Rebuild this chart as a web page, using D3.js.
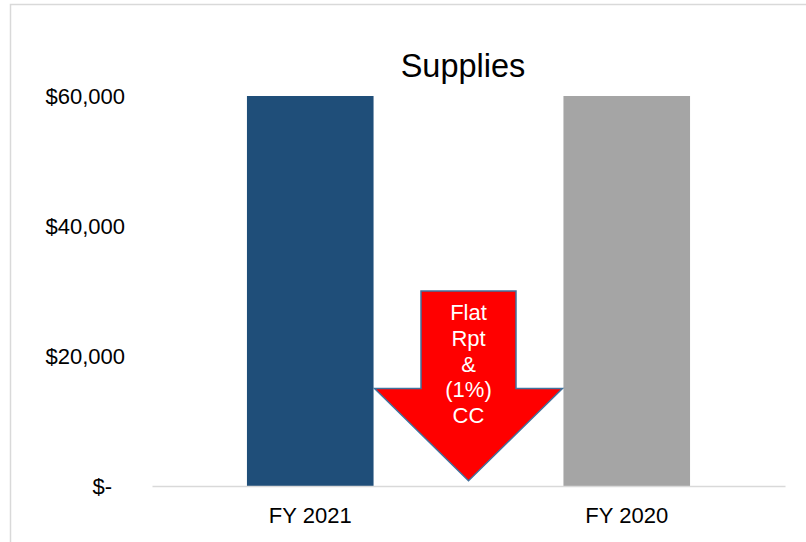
<!DOCTYPE html>
<html>
<head>
<meta charset="utf-8">
<script src="https://cdn.jsdelivr.net/npm/d3@7"></script>
<style>
html,body{margin:0;padding:0;background:#fff;}
svg{display:block;font-family:"Liberation Sans",Arial,sans-serif;}
</style>
</head>
<body>
<svg id="chart" width="806" height="542"></svg>
<script>
const categories = ["FY 2021", "FY 2020"];
const values = [60000, 60000];
const barColors = ["#1F4E79", "#A5A5A5"];
const yTicks = [0, 20000, 40000, 60000];
const yTickLabels = ["$-", "$20,000", "$40,000", "$60,000"];
const arrowLines = ["Flat", "Rpt", "&", "(1%)", "CC"];
const arrowLevels = { top: 30000, wing: 15000, tip: 800 };

const svg = d3.select("#chart");
const plot = { left: 152, right: 785, top: 96, bottom: 486 };
const FONT = "'Liberation Sans',Arial,sans-serif";

// frame
svg.append("rect").attr("x", 10.5).attr("y", 4.5).attr("width", 900).attr("height", 700)
  .attr("fill", "#fff").attr("stroke", "#d9d9d9").attr("stroke-width", 1.5);

const x = d3.scaleBand().domain(categories).range([plot.left, plot.right])
  .paddingInner(0.6).paddingOuter(0.3);
const y = d3.scaleLinear().domain([0, 60000]).range([plot.bottom, plot.top]);

// title
svg.append("text").attr("x", 463).attr("y", 77).attr("text-anchor", "middle")
  .attr("font-size", 32.5).attr("fill", "#000").text("Supplies");

// bars
svg.selectAll("rect.bar").data(categories).join("rect").attr("class", "bar")
  .attr("x", d => x(d)).attr("width", x.bandwidth())
  .attr("y", (d, i) => y(values[i])).attr("height", (d, i) => y(0) - y(values[i]))
  .attr("fill", (d, i) => barColors[i]);

// y axis
const yAxis = d3.axisLeft(y).tickValues(yTicks)
  .tickFormat(d => yTickLabels[yTicks.indexOf(d)]).tickSize(0).tickPadding(0);
const gy = svg.append("g").attr("transform", "translate(125,0)").call(yAxis);
gy.select(".domain").remove();
gy.selectAll("text").attr("font-size", 22).attr("fill", "#000")
  .attr("font-family", FONT)
  .attr("dy", "0.36em")
  .attr("dx", d => d === 0 ? -13 : 0);

// x axis
const xAxis = d3.axisBottom(x).tickSize(0).tickPadding(0);
const gx = svg.append("g").attr("transform", `translate(0,${plot.bottom})`).call(xAxis);
gx.select(".domain").attr("stroke", "#d9d9d9").attr("stroke-width", 1.5);
gx.selectAll("text").attr("font-size", 22).attr("fill", "#000")
  .attr("font-family", FONT)
  .attr("y", 36.5).attr("dy", 0);

// arrow annotation centred between the bars
const cL = x(categories[0]) + x.bandwidth() / 2;
const cR = x(categories[1]) + x.bandwidth() / 2;
const cx = (cL + cR) / 2;
const shaftHalf = 47.5;
const wingHalf = (x(categories[1]) - (x(categories[0]) + x.bandwidth())) / 2 - 1;
const yt = y(arrowLevels.top), yw = y(arrowLevels.wing), yp = y(arrowLevels.tip);
const pts = [
  [cx - shaftHalf, yt], [cx + shaftHalf, yt], [cx + shaftHalf, yw],
  [cx + wingHalf, yw], [cx, yp], [cx - wingHalf, yw], [cx - shaftHalf, yw]
];
svg.append("path").attr("d", d3.line()(pts) + "Z")
  .attr("fill", "#FF0000").attr("stroke", "#41719C").attr("stroke-width", 1.5)
  .attr("stroke-linejoin", "miter");

svg.append("g").selectAll("text").data(arrowLines).join("text")
  .attr("x", cx).attr("y", (d, i) => 320 + i * 25.8)
  .attr("text-anchor", "middle").attr("font-size", 22).attr("fill", "#fff")
  .attr("font-family", FONT)
  .text(d => d);
</script>
</body>
</html>
